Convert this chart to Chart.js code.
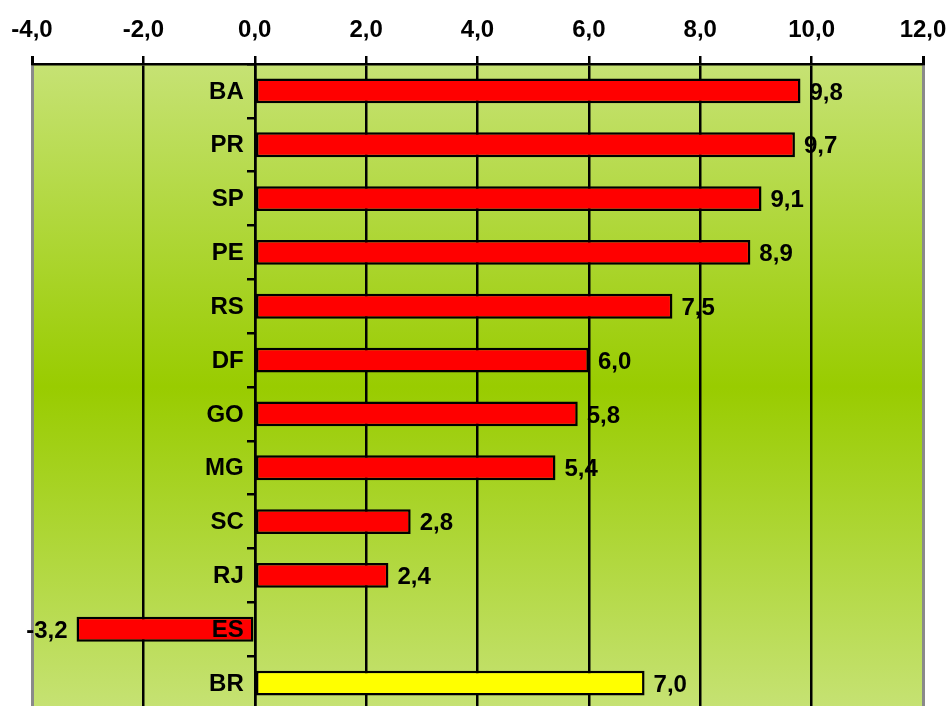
<!DOCTYPE html>
<html>
<head>
<meta charset="utf-8">
<script src="https://cdn.jsdelivr.net/npm/chart.js@4"></script>
<style>
  html, body { margin: 0; padding: 0; background: #fff; overflow: hidden; }
  #wrap { width: 951px; height: 712px; position: relative; }
</style>
</head>
<body>
<div id="wrap"><canvas id="c"></canvas></div>
<script>
const categories = ['BA', 'PR', 'SP', 'PE', 'RS', 'DF', 'GO', 'MG', 'SC', 'RJ', 'ES', 'BR'];
const values = [9.8, 9.7, 9.1, 8.9, 7.5, 6.0, 5.8, 5.4, 2.8, 2.4, -3.2, 7.0];
const barColors = ['#ff0000', '#ff0000', '#ff0000', '#ff0000', '#ff0000', '#ff0000', '#ff0000', '#ff0000', '#ff0000', '#ff0000', '#ff0000', '#ffff00'];
const xMin = -4, xMax = 12, xStep = 2;

const FONT = '"Liberation Sans", Arial, sans-serif';
const FSIZE = 24;
const fmt = v => v.toFixed(1).replace('.', ',');

const bgPlugin = {
  id: 'bg',
  beforeDraw(chart) {
    const {ctx, chartArea: a} = chart;
    const g = ctx.createLinearGradient(0, a.top, 0, a.bottom);
    g.addColorStop(0, '#c6e274');
    g.addColorStop(0.5, '#99cc00');
    g.addColorStop(1, '#c6e274');
    ctx.save();
    ctx.fillStyle = g;
    ctx.fillRect(a.left, a.top, a.right - a.left, a.bottom - a.top);
    ctx.restore();
  }
};

const labelPlugin = {
  id: 'vlabels',
  afterDatasetsDraw(chart) {
    const {ctx} = chart;
    const meta = chart.getDatasetMeta(0);
    const x0 = chart.scales.x.getPixelForValue(0);
    ctx.save();
    ctx.font = 'bold ' + FSIZE + 'px ' + FONT;
    ctx.fillStyle = '#000';
    ctx.textBaseline = 'middle';
    meta.data.forEach((bar, i) => {
      const v = values[i];
      const yc = chart.scales.y.getPixelForValue(i);
      ctx.textAlign = 'right';
      ctx.fillText(categories[i], x0 - 11, yc + 1);
      if (v >= 0) {
        ctx.textAlign = 'left';
        ctx.fillText(fmt(v), bar.x + 9, bar.y + 2);
      } else {
        ctx.textAlign = 'right';
        ctx.fillText(fmt(v), bar.x - 9, bar.y + 2);
      }
    });
    ctx.restore();
  }
};

new Chart(document.getElementById('c'), {
  type: 'bar',
  data: {
    labels: categories,
    datasets: [{
      data: values,
      backgroundColor: barColors,
      borderColor: '#000',
      borderWidth: 2.5,
      borderSkipped: false,
      categoryPercentage: 1.0,
      barPercentage: 0.46
    }]
  },
  options: {
    indexAxis: 'y',
    responsive: true,
    maintainAspectRatio: false,
    animation: false,
    layout: { padding: { left: 32, right: 28, top: 0, bottom: 2 } },
    plugins: { legend: { display: false }, tooltip: { enabled: false } },
    scales: {
      x: {
        type: 'linear',
        position: 'top',
        min: xMin, max: xMax,
        ticks: {
          stepSize: xStep,
          color: '#000',
          font: { family: FONT, size: FSIZE, weight: 'bold' },
          padding: 11,
          callback: v => fmt(v)
        },
        grid: {
          color: c => (c.index === 0 || c.tick && c.tick.value === xMax) ? '#8a8a8a' : '#000',
          lineWidth: c => (c.index === 0 || c.tick && c.tick.value === xMax) ? 3 : 2.5,
          tickColor: '#000',
          tickLength: 8,
          drawTicks: true
        },
        border: { display: true, color: '#000', width: 2.5 },
        afterFit: s => { s.height = 64; s.paddingLeft = 0; s.paddingRight = 0; }
      },
      y: {
        type: 'category',
        position: { x: 0 },
        offset: true,
        ticks: { display: false },
        grid: {
          offset: true,
          drawOnChartArea: false,
          drawTicks: true,
          tickLength: 7,
          color: '#000',
          lineWidth: 2.5
        },
        border: { display: true, color: '#000', width: 2.5 },
        afterFit: s => { s.paddingTop = 0; s.paddingBottom = 0; }
      }
    }
  },
  plugins: [bgPlugin, labelPlugin]
});
</script>
</body>
</html>
